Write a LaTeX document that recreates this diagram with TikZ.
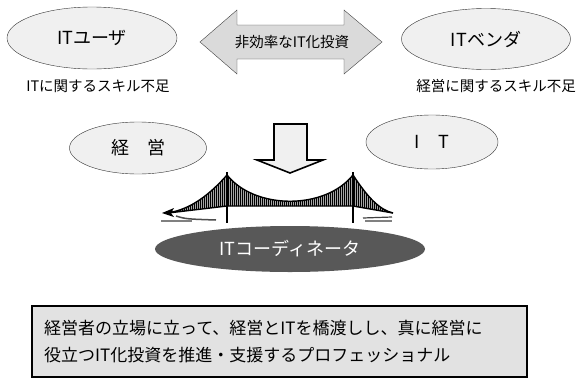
\documentclass[tikz,border=0pt]{standalone}
\usepackage[x11names]{xcolor}
\usepackage{fontspec}
\setmainfont{Noto Sans CJK JP}
\usepackage{tikz}
\usetikzlibrary{shapes.geometric,patterns.meta}
\definecolor{bubblefill}{HTML}{F0F0F0}
\definecolor{arrowfill}{HTML}{DADADA}
\definecolor{boxfill}{HTML}{E2E2E2}
\definecolor{coordfill}{HTML}{585858}
\tikzset{
  bubble/.style={ellipse, draw=black!80, fill=bubblefill, inner sep=0pt},
  bigtext/.style={font=\fontsize{18pt}{20pt}\selectfont},
  smalltext/.style={font=\fontsize{14.5pt}{16pt}\selectfont},
}

\begin{document}
\begin{tikzpicture}[x=1pt,y=-1pt]
      \useasboundingbox (0,0) rectangle (579,389);

      % Users and vendors on top
      \node[bubble, bigtext, minimum width=170pt, minimum height=62pt] (user) at (92,38) {ITユーザ};
      \node[bubble, bigtext, minimum width=169pt, minimum height=61pt] (vendor) at (486,39) {ITベンダ};
      \node[smalltext] (userlack) at (98,86) {ITに関するスキル不足};
      \node[smalltext] (vendorlack) at (496,86) {経営に関するスキル不足};

      % Double arrow between them
      \filldraw[fill=arrowfill, draw=black!75] (200,42) -- (237,10) -- (237,25) -- (344,25) -- (344,10)
        -- (382,42) -- (344,74) -- (344,59) -- (237,59) -- (237,74) -- cycle;
      \node[font=\fontsize{14.5pt}{16pt}\selectfont] (waste) at (292,42) {非効率なIT化投資};

      % Management and IT
      \node[bubble, bigtext, minimum width=137pt, minimum height=52pt] (mgmt) at (138,148) {経　営};
      \node[bubble, bigtext, minimum width=132pt, minimum height=54pt] (it) at (432,142) {I　T};

      % Block arrow pointing down
      \filldraw[fill=bubblefill, draw=black, line width=1.6pt] (274,124) -- (307,124) -- (307,160) -- (323,160)
        -- (290,173) -- (257,160) -- (274,160) -- cycle;

      % Bridge: cables with hangers
      \fill[gray!70] (166,213) -- (227,206) -- (353,206) -- (393,213)
        .. controls (380,210) and (368,198) .. (353,175)
        .. controls (325,210) and (255,210) .. (227,175)
        .. controls (205,200) and (185,211) .. (166,213) -- cycle;
      \fill[pattern={Lines[angle=90, distance=2pt, line width=.7pt]}] (166,213) -- (227,206) -- (353,206) -- (393,213)
        .. controls (380,210) and (368,198) .. (353,175)
        .. controls (325,210) and (255,210) .. (227,175)
        .. controls (205,200) and (185,211) .. (166,213) -- cycle;
      \draw[line width=1.4pt] (166,213) .. controls (185,211) and (205,200) .. (227,175)
        .. controls (255,210) and (325,210) .. (353,175)
        .. controls (368,198) and (380,210) .. (393,213);
      % Deck
      \draw[line width=1.4pt] (168,213) -- (227,206) -- (353,206) -- (393,213);
      \fill (162,213) -- (174,208) -- (171,213) -- (174,217) -- cycle;

      % Towers
      \draw[line width=1.6pt] (227,172) -- (227,223);
      \draw[line width=1.6pt] (353,172) -- (353,223);

      % Ground under the bridge ends
      \draw[gray, line width=2pt] (161,221) -- (192,221);
      \draw[black!70, line width=1.5pt] (176,216) .. controls (186,219) .. (216,220);
      \draw[black!75, line width=1.2pt] (363,218) -- (392,217);
      \draw[gray, line width=1.5pt] (365,221) -- (392,221);

      % IT coordinator
      \node[ellipse, fill=coordfill, text=white, bigtext, minimum width=270pt, minimum height=46pt, inner sep=0pt] (coord) at (290,249) {ITコーディネータ};

      % Definition box
      \filldraw[fill=boxfill, draw=black, line width=1.2pt] (32,306) rectangle (527,377);
      \node[anchor=west, align=left, font=\fontsize{17pt}{27pt}\selectfont, inner sep=0pt] (defn) at (44,342)
        {経営者の立場に立って、経営とITを橋渡しし、真に経営に\\役立つIT化投資を推進・支援するプロフェッショナル};
    \end{tikzpicture}
\end{document}
